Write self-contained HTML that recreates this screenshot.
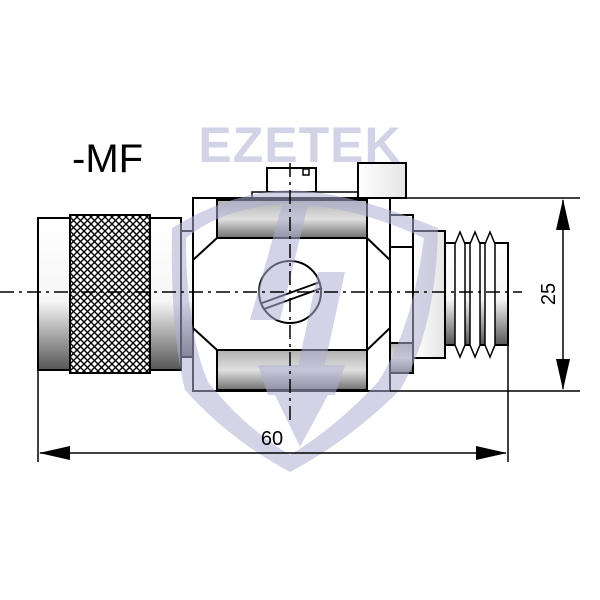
<!DOCTYPE html>
<html><head><style>html,body{margin:0;padding:0;background:#fff}svg{display:block}</style></head>
<body>
<svg width="600" height="600" viewBox="0 0 600 600" xmlns="http://www.w3.org/2000/svg">
<defs>
<linearGradient id="gv" x1="0" y1="0" x2="0" y2="1">
<stop offset="0" stop-color="#fff"/><stop offset="0.55" stop-color="#f6f6f6"/><stop offset="1" stop-color="#555"/></linearGradient>
<linearGradient id="gw" x1="0" y1="0" x2="0" y2="1">
<stop offset="0" stop-color="#b0b0b0"/><stop offset="0.5" stop-color="#e0e0e0"/><stop offset="1" stop-color="#707070"/></linearGradient>
<linearGradient id="gh" x1="0" y1="0" x2="1" y2="0">
<stop offset="0" stop-color="#fff"/><stop offset="1" stop-color="#e4e4e4"/></linearGradient>
<pattern id="knurl" width="7" height="7" patternUnits="userSpaceOnUse">
<rect width="7" height="7" fill="#fff"/>
<path d="M0 0L7 7M7 0L0 7" stroke="#000" stroke-width="1.4"/></pattern>
</defs>

<g stroke="#000" stroke-width="2" fill="none">
<rect x="38" y="218" width="143" height="152" fill="url(#gv)"/>
<rect x="70" y="215" width="80" height="158" fill="url(#knurl)"/>
<rect x="181" y="231" width="12" height="126" fill="url(#gv)"/>
<rect x="267" y="168" width="49" height="24" fill="#fff"/>
<rect x="303" y="169" width="6" height="6" fill="#fff" stroke-width="1.5"/>
<rect x="252" y="192" width="106" height="6" fill="#fff" stroke-width="1.5"/>
<rect x="358" y="163" width="48" height="35" fill="url(#gh)"/>
<rect x="193" y="198" width="197" height="193" fill="#fff"/>
<rect x="217" y="200" width="150" height="38" fill="url(#gw)"/>
<rect x="217" y="350" width="150" height="40" fill="url(#gw)"/>
<path d="M193 260L217 238M193 328L217 350M367 238L390 260M367 350L390 328"/>
<line x1="367" y1="200" x2="367" y2="390"/>
<rect x="390" y="215" width="23" height="158" fill="#fff"/>
<line x1="390" y1="247" x2="413" y2="247"/>
<rect x="390" y="343" width="23" height="30" fill="url(#gw)"/>
<rect x="413" y="231" width="32" height="127" fill="url(#gh)"/>
<rect x="445" y="243" width="63" height="102" fill="url(#gv)"/>
<path d="M455 244L460 232L465 244L465 345L460 357L455 345Z" fill="#fff" stroke-width="1.5"/>
<path d="M470 244L475 232L480 244L480 345L475 357L470 345Z" fill="#fff" stroke-width="1.5"/>
<path d="M485 244L490 232L495 244L495 345L490 357L485 345Z" fill="#fff" stroke-width="1.5"/>
<circle cx="290" cy="292" r="31" fill="#fff"/>
<path d="M262 303L320 282M264 309L322 288" stroke-width="1.8"/>
</g>

<g fill="#b0b0d4" opacity="0.55">
<text x="300" y="162" text-anchor="middle" font-family="Liberation Sans, sans-serif" font-weight="bold" font-size="50" letter-spacing="1">EZETEK</text>
<path d="M172 228Q230 192 290 190Q350 192 438 228Q436 330 400 390Q350 440 290 472Q230 440 185 390Q170 330 172 228Z M186 238Q186 330 208 382Q245 428 290 455Q335 428 378 382Q412 330 424 238Q355 206 290 204Q225 206 186 238Z" fill-rule="evenodd"/>
<path d="M282 205L308 205L280 320L250 320Z"/>
<path d="M318 272L345 272L318 395L292 395Z"/>
<path d="M258 365L345 365L335 395L268 395Z"/>
<path d="M275 395L328 395L300 447Z"/>
</g>

<g stroke="#000" stroke-width="1.5" stroke-dasharray="14 5 3 5" fill="none">
<line x1="0" y1="292" x2="522" y2="292"/>
<line x1="290" y1="163" x2="290" y2="420"/>
</g>

<g stroke="#000" stroke-width="1.5" fill="none">
<line x1="406" y1="198" x2="580" y2="198"/>
<line x1="390" y1="391" x2="580" y2="391"/>
<line x1="563" y1="200" x2="563" y2="389"/>
<line x1="38" y1="370" x2="38" y2="462"/>
<line x1="508" y1="345" x2="508" y2="462"/>
<line x1="40" y1="453" x2="506" y2="453"/>
</g>
<g fill="#000">
<path d="M563 199L556 230L570 230Z"/>
<path d="M563 390L556 359L570 359Z"/>
<path d="M39 453L70 446L70 460Z"/>
<path d="M507 453L476 446L476 460Z"/>
</g>
<text x="272" y="445" text-anchor="middle" font-family="Liberation Sans, sans-serif" font-size="20">60</text>
<text transform="translate(555,294) rotate(-90)" text-anchor="middle" font-family="Liberation Sans, sans-serif" font-size="20">25</text>
<text x="72" y="172" font-family="Liberation Sans, sans-serif" font-size="40">-MF</text>
</svg>
</body></html>
